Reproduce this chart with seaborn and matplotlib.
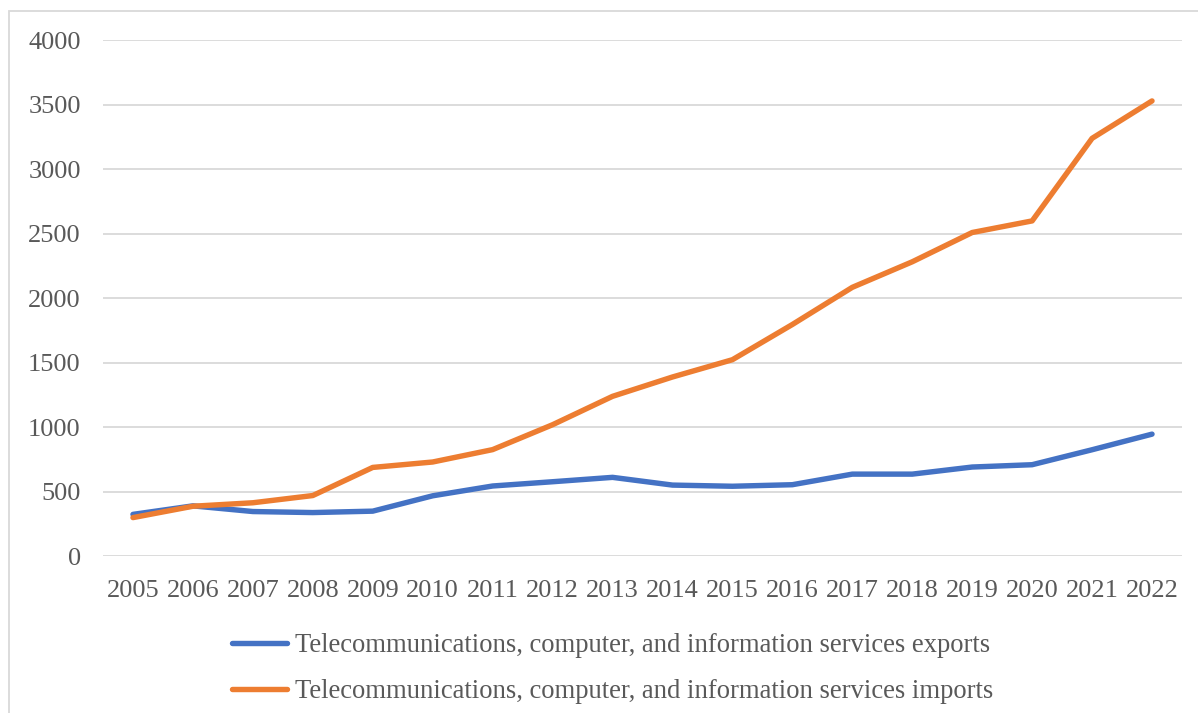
import matplotlib
matplotlib.use("Agg")
import matplotlib.pyplot as plt
import seaborn as sns
import pandas as pd
from matplotlib.patches import Rectangle
from matplotlib.lines import Line2D

years = list(range(2005, 2023))
exports = [325, 391, 347, 339, 350, 469, 545, 578, 612, 552, 543, 555, 637, 637, 692, 710, 826, 947]
imports = [300, 388, 415, 471, 689, 731, 827, 1020, 1240, 1390, 1524, 1797, 2085, 2283, 2510, 2600, 3240, 3530]
series_names = [
    "Telecommunications, computer, and information services exports",
    "Telecommunications, computer, and information services imports",
]
colors = ["#4472C4", "#ED7D31"]

df = pd.DataFrame({
    "year": years * 2,
    "value": exports + imports,
    "series": [series_names[0]] * len(years) + [series_names[1]] * len(years),
})

sns.set_theme(style="white")
plt.rcParams["font.family"] = ["Liberation Serif", "DejaVu Serif"]

W, H = 1198, 713
fig = plt.figure(figsize=(W / 100, H / 100), dpi=100)
ax = fig.add_axes([103 / W, 1 - 556.3 / H, (1182 - 103) / W, (556.3 - 40.3) / H])

sns.lineplot(data=df, x="year", y="value", hue="series", palette=colors,
             linewidth=3.9, ax=ax, legend=False, sort=False)
for ln in ax.lines:
    ln.set_solid_capstyle("round")
    ln.set_solid_joinstyle("round")

ax.set_xlim(2004.5, 2022.5)
ax.set_ylim(0, 4000)
ax.set_xticks(years)
ax.set_xticklabels([str(y) for y in years])
ax.set_yticks(range(0, 4001, 500))
ax.set_xlabel("")
ax.set_ylabel("")
ax.grid(axis="y", color="#D9D9D9", linewidth=1.3)
ax.grid(axis="x", visible=False)
ax.set_axisbelow(True)
for s in ax.spines.values():
    s.set_visible(False)
ax.tick_params(axis="both", length=0, labelsize=19, labelcolor="#595959")
ax.tick_params(axis="y", pad=16)
ax.tick_params(axis="x", pad=17)

handles = [Line2D([0], [0], color=c, linewidth=3.9, solid_capstyle="round") for c in colors]
fig.legend(handles, series_names, loc="upper left",
           bbox_to_anchor=(232 / W, 1 - 633 / H), frameon=False,
           fontsize=19.2, labelcolor="#595959", handlelength=2.05,
           handletextpad=0.3, labelspacing=0.8, borderaxespad=0, borderpad=0)

# light chart-area border
fig.patches.append(Rectangle((9 / W, -0.1), 1.2, 1 - 11 / H + 0.1, transform=fig.transFigure,
                             fill=False, edgecolor="#D9D9D9", linewidth=1.3))

fig.savefig("out.png", dpi=100, facecolor="white")
